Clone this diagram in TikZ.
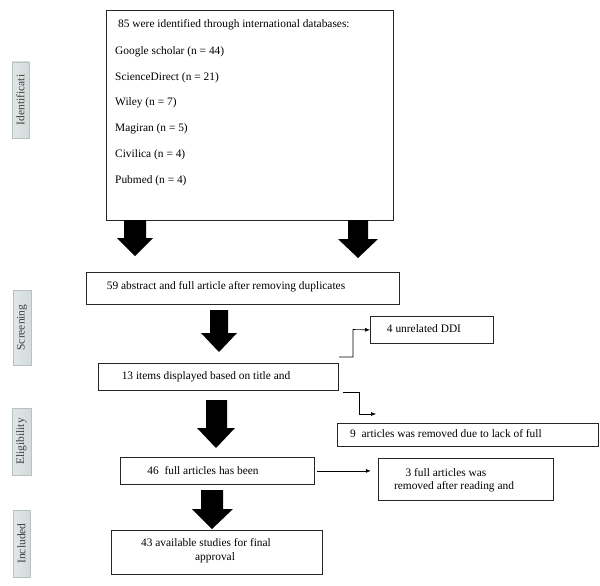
\documentclass[tikz,border=0pt]{standalone}
\usepackage{fontspec}
\setmainfont{Liberation Serif}
\definecolor{sidefill}{HTML}{D3DCDB}
\definecolor{sideedge}{HTML}{B8C2C2}
\usetikzlibrary{arrows.meta}
\tikzset{
  box/.style={draw=black!85, line width=0.8pt, fill=white},
  side/.style={draw=sideedge, line width=0.6pt, left color=sidefill!70, right color=sidefill},
  sidetext/.style={rotate=90, font=\fontsize{11.5}{12}\selectfont, text=black!75},
  txt/.style={font=\fontsize{11.4}{13}\selectfont, inner sep=0pt},
  bigarrow/.style={fill=black, draw=none},
  thin/.style={draw=black, line width=0.6pt, -{Latex[length=5pt,width=4pt]}},
}
\begin{document}
\begin{tikzpicture}[x=1pt,y=-1pt]
\useasboundingbox (0,0) rectangle (600,586);
% side labels
\path[side] (12,62) rectangle (29,138);
\node[sidetext] (lid) at (20.5,100) {Identificati};
\path[side] (13,290) rectangle (31,365);
\node[sidetext] (lsc) at (22,327.5) {Screening};
\path[side] (12,408) rectangle (31,475);
\node[sidetext] (lel) at (21.5,441.5) {Eligibility};
\path[side] (13,510) rectangle (30,577);
\node[sidetext] (lin) at (21.5,543.5) {Included};

% top box
\draw[box] (106,10) rectangle (393,220);
\node[txt, anchor=west] (t0) at (118,25) {85 were identified through international databases:};
\node[txt, anchor=west] (t1) at (115,52) {Google scholar (n = 44)};
\node[txt, anchor=west] (t2) at (115,77.5) {ScienceDirect (n = 21)};
\node[txt, anchor=west] (t3) at (115,103) {Wiley (n = 7)};
\node[txt, anchor=west] (t4) at (115,129) {Magiran (n = 5)};
\node[txt, anchor=west] (t5) at (115,155) {Civilica (n = 4)};
\node[txt, anchor=west] (t6) at (115,181) {Pubmed (n = 4)};

% block arrows
\fill[bigarrow] (124,220) -- (146,220) -- (146,238) -- (153,238) -- (135,256) -- (117,238) -- (124,238) -- cycle;
\fill[bigarrow] (348,220) -- (368,220) -- (368,239) -- (378,239) -- (358,258) -- (338,239) -- (348,239) -- cycle;
\fill[bigarrow] (210,310) -- (228,310) -- (228,333) -- (237,333) -- (219,352) -- (201,333) -- (210,333) -- cycle;
\fill[bigarrow] (206,400) -- (227,400) -- (227,428) -- (235,428) -- (216,448) -- (197,428) -- (206,428) -- cycle;
\fill[bigarrow] (201,490) -- (223,490) -- (223,509) -- (233,509) -- (212,529) -- (192,509) -- (201,509) -- cycle;

% boxes
\node[box, minimum width=313pt, minimum height=32pt, anchor=north west, inner sep=0pt] (b59) at (86,272) {};
\node[txt] (x59) at (226,286.5) {59 abstract and full article after removing duplicates};
\node[box, minimum width=240pt, minimum height=27pt, anchor=north west, inner sep=0pt] (b13) at (98,363) {};
\node[txt] (x13) at (206,376.5) {13 items displayed based on title and};
\node[box, minimum width=194pt, minimum height=27pt, anchor=north west, inner sep=0pt] (b46) at (120,457) {};
\node[txt] (x46) at (203,471) {46\ \ full articles has been};
\node[box, minimum width=211pt, minimum height=44pt, anchor=north west, inner sep=0pt] (b43) at (111,530) {};
\node[txt] (x43a) at (206,543) {43 available studies for final};
\node[txt] (x43b) at (215,558) {approval};

\node[box, minimum width=123pt, minimum height=27pt, anchor=north west, inner sep=0pt] (b4) at (370,316) {};
\node[txt] (x4) at (424,329) {4 unrelated DDI};
\node[box, minimum width=261pt, minimum height=23pt, anchor=north west, inner sep=0pt] (b9) at (337,423) {};
\node[txt] (x9) at (446,434) {9\ \ articles was removed due to lack of full};
\node[box, minimum width=175pt, minimum height=42pt, anchor=north west, inner sep=0pt] (b3) at (378,458) {};
\node[txt] (x3a) at (446,473) {3 full articles was};
\node[txt] (x3b) at (454,487) {removed after reading and};

% connectors
\coordinate (c1) at (339,357);
\coordinate (c2) at (343,392);
\coordinate (c2e) at (376,414);
\draw[thin] (c1) -- (353,357) -- (353,329.5) -- (b4.west);
\draw[thin] (c2) -- (359,392) -- (359,414) -- (c2e);
\draw[thin] ([xshift=2pt]b46.east) -- ++(54,0);
\end{tikzpicture}
\end{document}
